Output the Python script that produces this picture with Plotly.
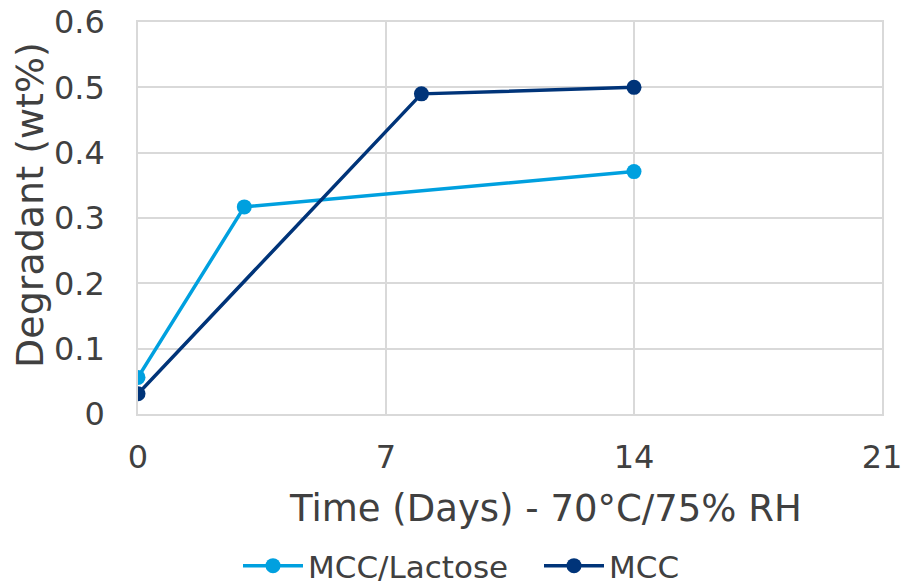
import plotly.graph_objects as go

days_lac = [0, 3, 14]
vals_lac = [0.056, 0.317, 0.371]
days_mcc = [0, 8, 14]
vals_mcc = [0.031, 0.490, 0.500]
x_ticks = [0, 7, 14, 21]
y_ticks = [0, 0.1, 0.2, 0.3, 0.4, 0.5, 0.6]
y_labels = ["0", "0.1", "0.2", "0.3", "0.4", "0.5", "0.6"]
x_title = "Time (Days) - 70°C/75% RH"
y_title = "Degradant (wt%)"

FONT = "DejaVu Sans"
TXT = "#404040"
L, R, T, B = 138, 20, 22, 174
PW, PH = 902 - L - R, 588 - T - B

fig = go.Figure()
fig.add_trace(go.Scatter(x=days_lac, y=vals_lac, name="MCC/Lactose", mode="lines+markers",
                         line=dict(color="#00A0DF", width=3.5), marker=dict(size=15, color="#00A0DF")))
fig.add_trace(go.Scatter(x=days_mcc, y=vals_mcc, name="MCC", mode="lines+markers",
                         line=dict(color="#003479", width=3.5), marker=dict(size=15, color="#003479")))

fig.update_layout(
    width=902, height=588,
    margin=dict(l=L, r=R, t=T, b=B, autoexpand=False),
    paper_bgcolor="white", plot_bgcolor="white",
    font=dict(family=FONT, color=TXT, size=32),
    showlegend=True,
    legend=dict(orientation="h", xref="container", x=(238) / 902, xanchor="left",
                yref="paper", y=-(566 - 414) / PH, yanchor="middle",
                entrywidth=226, entrywidthmode="pixels",
                font=dict(size=31, color=TXT), itemwidth=60, traceorder="normal"),
    xaxis=dict(range=[0, 21], tickvals=x_ticks, showgrid=True, gridcolor="#D9D9D9", gridwidth=1.5,
               zeroline=False, showline=True, linecolor="#D9D9D9", linewidth=1.5, mirror=True,
               tickfont=dict(size=32, color=TXT), ticks="", ticklen=0, automargin=False,
               ticklabelstandoff=14, ticklabeloverflow="allow"),
    yaxis=dict(range=[0, 0.6], tickvals=y_ticks, ticktext=y_labels, showgrid=True, gridcolor="#D9D9D9",
               gridwidth=1.5, zeroline=False, showline=True, linecolor="#D9D9D9", linewidth=1.5, mirror=True,
               tickfont=dict(size=32, color=TXT), ticks="", ticklabelstandoff=25, automargin=False,
               ticklabeloverflow="allow"),
    annotations=[
        dict(text=x_title, xref="paper", yref="paper", x=(545 - L) / PW, y=-(508 - 414) / PH,
             xanchor="center", yanchor="middle", showarrow=False, font=dict(size=37, color=TXT)),
        dict(text=y_title, xref="paper", yref="paper", x=-(138 - 30) / PW, y=(414 - 205) / PH,
             xanchor="center", yanchor="middle", showarrow=False, textangle=-90,
             font=dict(size=38, color=TXT)),
    ],
)
fig.write_html("out.html")
